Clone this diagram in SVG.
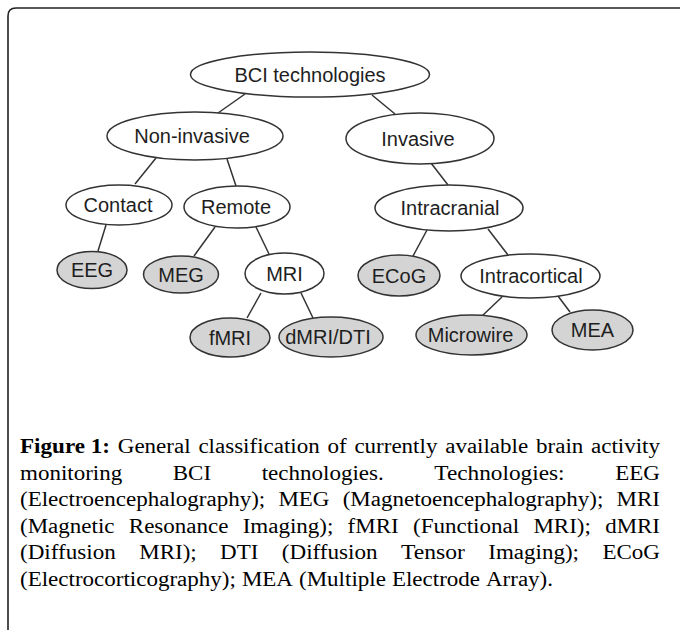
<svg xmlns="http://www.w3.org/2000/svg" width="680" height="630" viewBox="0 0 680 630">
<style>
.n ellipse{fill:#ffffff;stroke:#333333;stroke-width:1.5}
.g ellipse{fill:#d4d4d4;stroke:#333333;stroke-width:1.5}
.n text,.g text{font-family:"Liberation Sans",Arial,sans-serif;font-size:20px;fill:#1e1e1e;text-anchor:middle}
#connectors line{stroke:#333333;stroke-width:1.5}
.cap{font-family:"Liberation Serif","Times New Roman",serif;font-size:20px;fill:#000000}
.b{font-weight:bold}
</style>
<rect width="680" height="630" fill="#ffffff"/>
<path d="M8 630 L8 16 Q8 8 16 8 L680 8" fill="none" stroke="#222222" stroke-width="1.6"/>
<g id="connectors">
<line x1="245" y1="94" x2="218" y2="113"/>
<line x1="372" y1="95" x2="395" y2="114"/>
<line x1="156" y1="158" x2="135" y2="184"/>
<line x1="227" y1="159" x2="236" y2="186"/>
<line x1="106" y1="225" x2="98" y2="251"/>
<line x1="215" y1="227" x2="194" y2="256"/>
<line x1="256" y1="227" x2="269" y2="254"/>
<line x1="261" y1="293" x2="247" y2="318"/>
<line x1="301" y1="293" x2="313" y2="318"/>
<line x1="431" y1="163" x2="448" y2="185"/>
<line x1="427" y1="230" x2="413" y2="256"/>
<line x1="488" y1="229" x2="508" y2="255"/>
<line x1="502" y1="297" x2="482" y2="316"/>
<line x1="558" y1="296" x2="570" y2="312"/>
</g>
<g id="bci" class="n"><ellipse cx="310" cy="74.5" rx="119.5" ry="22.5"/><text x="310" y="81.5">BCI technologies</text></g>
<g id="noninvasive" class="n"><ellipse cx="195" cy="136" rx="88" ry="24"/><text x="192" y="143">Non-invasive</text></g>
<g id="invasive" class="n"><ellipse cx="420" cy="138.5" rx="74" ry="25.5"/><text x="418" y="145.5">Invasive</text></g>
<g id="contact" class="n"><ellipse cx="119" cy="205" rx="53" ry="20"/><text x="118" y="212">Contact</text></g>
<g id="remote" class="n"><ellipse cx="237" cy="207" rx="53" ry="21"/><text x="236" y="214">Remote</text></g>
<g id="intracranial" class="n"><ellipse cx="449" cy="208" rx="74" ry="23"/><text x="450" y="215">Intracranial</text></g>
<g id="eeg" class="g"><ellipse cx="92" cy="270" rx="35" ry="18.5"/><text x="92" y="277">EEG</text></g>
<g id="meg" class="g"><ellipse cx="181" cy="274.5" rx="37.5" ry="18.5"/><text x="181" y="281.5">MEG</text></g>
<g id="mri" class="n"><ellipse cx="284.5" cy="273.5" rx="39.5" ry="20.5"/><text x="284.5" y="280.5">MRI</text></g>
<g id="ecog" class="g"><ellipse cx="399" cy="275.5" rx="41" ry="20.5"/><text x="399" y="282.5">ECoG</text></g>
<g id="intracortical" class="n"><ellipse cx="530.5" cy="276" rx="69.5" ry="22"/><text x="531" y="283">Intracortical</text></g>
<g id="fmri" class="g"><ellipse cx="230" cy="337.5" rx="40" ry="19.5"/><text x="230" y="344.5">fMRI</text></g>
<g id="dmri" class="g"><ellipse cx="331" cy="337" rx="52" ry="20"/><text x="328" y="344">dMRI/DTI</text></g>
<g id="microwire" class="g"><ellipse cx="471.5" cy="335" rx="55.5" ry="20"/><text x="470.5" y="342">Microwire</text></g>
<g id="mea" class="g"><ellipse cx="592.5" cy="330" rx="40.5" ry="20"/><text x="592.5" y="337">MEA</text></g>
<g id="caption" class="cap">
<text y="453"><tspan class="b" x="20" textLength="90" lengthAdjust="spacingAndGlyphs">Figure 1:</tspan><tspan x="117.8" textLength="72.8" lengthAdjust="spacingAndGlyphs">General</tspan><tspan x="198.4" textLength="121.4" lengthAdjust="spacingAndGlyphs">classification</tspan><tspan x="327.5" textLength="19.2" lengthAdjust="spacingAndGlyphs">of</tspan><tspan x="354.4" textLength="83" lengthAdjust="spacingAndGlyphs">currently</tspan><tspan x="445.2" textLength="83" lengthAdjust="spacingAndGlyphs">available</tspan><tspan x="536" textLength="47.3" lengthAdjust="spacingAndGlyphs">brain</tspan><tspan x="591" textLength="69" lengthAdjust="spacingAndGlyphs">activity</tspan></text>
<text y="479.6"><tspan x="20" textLength="102.2" lengthAdjust="spacingAndGlyphs">monitoring</tspan><tspan x="172.8" textLength="38.3" lengthAdjust="spacingAndGlyphs">BCI</tspan><tspan x="261.7" textLength="122" lengthAdjust="spacingAndGlyphs">technologies.</tspan><tspan x="434.3" textLength="130.3" lengthAdjust="spacingAndGlyphs">Technologies:</tspan><tspan x="615.2" textLength="44.7" lengthAdjust="spacingAndGlyphs">EEG</tspan></text>
<text y="506.2"><tspan x="20" textLength="245.2" lengthAdjust="spacingAndGlyphs">(Electroencephalography);</tspan><tspan x="278.4" textLength="51.1" lengthAdjust="spacingAndGlyphs">MEG</tspan><tspan x="342.7" textLength="260.6" lengthAdjust="spacingAndGlyphs">(Magnetoencephalography);</tspan><tspan x="616.6" textLength="43.4" lengthAdjust="spacingAndGlyphs">MRI</tspan></text>
<text y="532.8"><tspan x="20" textLength="94.5" lengthAdjust="spacingAndGlyphs">(Magnetic</tspan><tspan x="128.8" textLength="99.6" lengthAdjust="spacingAndGlyphs">Resonance</tspan><tspan x="242.7" textLength="90.7" lengthAdjust="spacingAndGlyphs">Imaging);</tspan><tspan x="347.6" textLength="51.1" lengthAdjust="spacingAndGlyphs">fMRI</tspan><tspan x="413" textLength="106.1" lengthAdjust="spacingAndGlyphs">(Functional</tspan><tspan x="533.4" textLength="57.5" lengthAdjust="spacingAndGlyphs">MRI);</tspan><tspan x="605.2" textLength="54.8" lengthAdjust="spacingAndGlyphs">dMRI</tspan></text>
<text y="559.4"><tspan x="20" textLength="95.8" lengthAdjust="spacingAndGlyphs">(Diffusion</tspan><tspan x="139.2" textLength="57.5" lengthAdjust="spacingAndGlyphs">MRI);</tspan><tspan x="220.1" textLength="38.3" lengthAdjust="spacingAndGlyphs">DTI</tspan><tspan x="281.8" textLength="95.8" lengthAdjust="spacingAndGlyphs">(Diffusion</tspan><tspan x="401" textLength="63.9" lengthAdjust="spacingAndGlyphs">Tensor</tspan><tspan x="488.3" textLength="90.7" lengthAdjust="spacingAndGlyphs">Imaging);</tspan><tspan x="602.4" textLength="57.5" lengthAdjust="spacingAndGlyphs">ECoG</tspan></text>
<text y="586"><tspan x="20" textLength="215.9" lengthAdjust="spacingAndGlyphs">(Electrocorticography);</tspan><tspan x="241.9" textLength="51.1" lengthAdjust="spacingAndGlyphs">MEA</tspan><tspan x="299" textLength="86.9" lengthAdjust="spacingAndGlyphs">(Multiple</tspan><tspan x="391.9" textLength="88.1" lengthAdjust="spacingAndGlyphs">Electrode</tspan><tspan x="486" textLength="67" lengthAdjust="spacingAndGlyphs">Array).</tspan></text>
</g>
</svg>
